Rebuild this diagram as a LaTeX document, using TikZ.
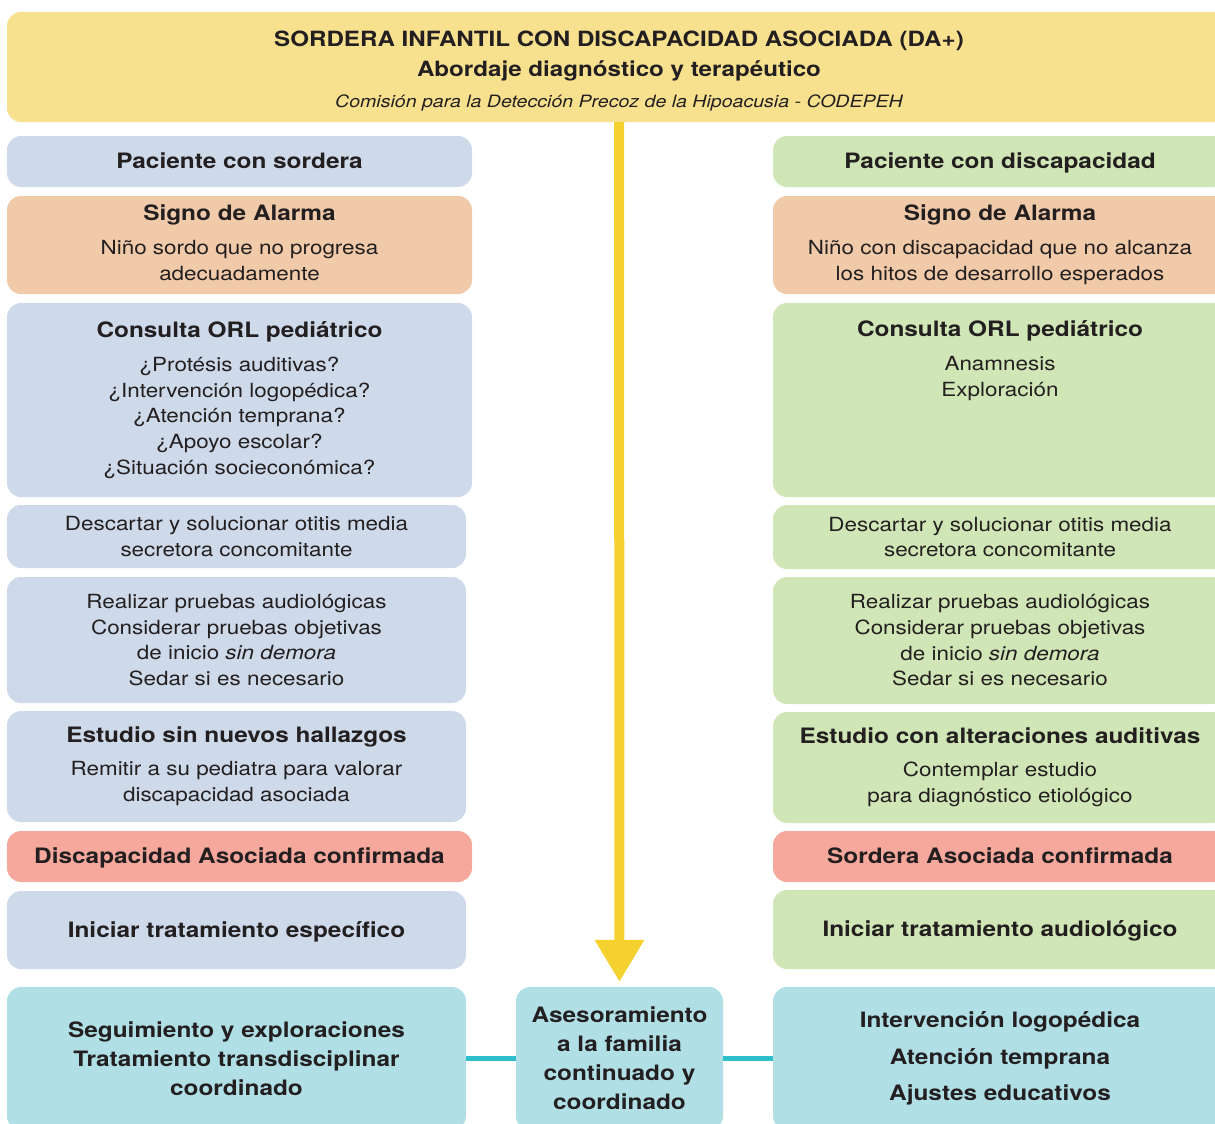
\documentclass[tikz,border=0pt]{standalone}
\usepackage{fontspec}
\setmainfont{TeX Gyre Heros}[FakeStretch=1.15]
\usetikzlibrary{arrows.meta}
\definecolor{titleY}{HTML}{F7E18F}
\definecolor{blueB}{HTML}{CED9EA}
\definecolor{peach}{HTML}{F0CAA9}
\definecolor{greenB}{HTML}{D0E6B6}
\definecolor{salmon}{HTML}{F6A89D}
\definecolor{cyanB}{HTML}{B0DFE5}
\definecolor{arrowY}{HTML}{F4D12F}
\definecolor{lineC}{HTML}{2DBFCA}
\definecolor{txt}{HTML}{231F20}
\newcommand{\hd}[1]{{\bfseries\fontsize{21.2}{25.7}\selectfont #1}}
\newcommand{\ph}{\vphantom{Ápg}}
\tikzset{
  box/.style={fill=#1, draw=none, rounded corners=14pt, inner sep=0pt, align=center, text=txt,
    font=\fontsize{19.5}{25.7}\selectfont},
  bigtxt/.style={font=\bfseries\fontsize{21.2}{29}\selectfont},
  conn/.style={line width=5pt, draw=lineC},
  mainarrow/.style={line width=10pt, draw=arrowY, -{Triangle[width=47pt,length=42pt]}},
}
\begin{document}
\begin{tikzpicture}[x=1pt,y=-1pt]
\useasboundingbox (0,0) rectangle (1215,1124);
\clip (0,0) rectangle (1215,1124);
% title
\node[box=titleY, minimum width=1224, minimum height=110] (title) at (619,67) {};
\node[text=txt, anchor=base, inner sep=0pt, font=\bfseries\fontsize{21}{25}\selectfont] (t1) at (619,47) {SORDERA INFANTIL CON DISCAPACIDAD ASOCIADA (DA+)};
\node[text=txt, anchor=base, inner sep=0pt, font=\bfseries\fontsize{21}{25}\selectfont] (t2) at (619,77) {Abordaje diagnóstico y terapéutico};
\node[text=txt, anchor=base, inner sep=0pt, font=\itshape\fontsize{17}{20}\selectfont] (t3) at (619,107) {Comisión para la Detección Precoz de la Hipoacusia - CODEPEH};

% left column
\node[box=blueB, minimum width=465, minimum height=51] (pacS) at (239.5,161.5) {\hd{\ph Paciente con sordera}};
\node[box=peach, minimum width=465, minimum height=98] (sigS) at (239.5,245) {\hd{Signo de Alarma}\\[8.3pt]Niño sordo que no progresa\\\ph adecuadamente};
\node[box=blueB, minimum width=465, minimum height=194] (conS) at (239.5,400) {\hd{Consulta ORL pediátrico}\\[8.3pt]¿Protésis auditivas?\\¿Intervención logopédica?\\¿Atención temprana?\\¿Apoyo escolar?\\¿Situación socieconómica?};
\node[box=blueB, minimum width=459, minimum height=63] (desS) at (236.5,536.5) {Descartar y solucionar otitis media\\secretora concomitante};
\node[box=blueB, minimum width=459, minimum height=126] (reaS) at (236.5,640) {Realizar pruebas audiológicas\\Considerar pruebas objetivas\\de inicio \textit{sin demora}\\Sedar si es necesario};
\node[box=blueB, minimum width=459, minimum height=111] (estS) at (236.5,766.5) {\hd{Estudio sin nuevos hallazgos}\\[7.3pt]Remitir a su pediatra para valorar\\discapacidad asociada};
\node[box=salmon, minimum width=465, minimum height=51, bigtxt] (disS) at (239.5,856.5) {\ph Discapacidad Asociada confirmada};
\node[box=blueB, minimum width=459, minimum height=78, bigtxt] (iniS) at (236.5,930) {\ph Iniciar tratamiento específico};
\node[box=cyanB, minimum width=459, minimum height=143, bigtxt] (segS) at (236.5,1058.5) {Seguimiento y exploraciones\\Tratamiento transdisciplinar\\coordinado};

% right column
\node[box=greenB, minimum width=454, minimum height=51] (pacD) at (1000,161.5) {\hd{\ph Paciente con discapacidad}};
\node[box=peach, minimum width=454, minimum height=98] (sigD) at (1000,245) {\hd{Signo de Alarma}\\[8.3pt]Niño con discapacidad que no alcanza\\\ph los hitos de desarrollo esperados};
\node[box=greenB, minimum width=454, minimum height=194] (conD) at (1000,400) {};
\node[text=txt, align=center, inner sep=0pt, anchor=north, font=\fontsize{19.5}{25.7}\selectfont] (conDt) at ([yshift=-18pt]conD.north) {\hd{Consulta ORL pediátrico}\\[8.3pt]Anamnesis\\Exploración};
\node[box=greenB, minimum width=454, minimum height=64] (desD) at (1000,537) {Descartar y solucionar otitis media\\secretora concomitante};
\node[box=greenB, minimum width=454, minimum height=127] (reaD) at (1000,640.5) {Realizar pruebas audiológicas\\Considerar pruebas objetivas\\de inicio \textit{sin demora}\\Sedar si es necesario};
\node[box=greenB, minimum width=454, minimum height=111] (estD) at (1000,767.5) {\hd{Estudio con alteraciones auditivas}\\[7.3pt]Contemplar estudio\\para diagnóstico etiológico};
\node[box=salmon, minimum width=454, minimum height=51, bigtxt] (sorD) at (1000,856.5) {\ph Sordera Asociada confirmada};
\node[box=greenB, minimum width=454, minimum height=79, bigtxt] (iniD) at (1000,929.5) {\ph Iniciar tratamiento audiológico};
\node[box=cyanB, minimum width=454, minimum height=143, bigtxt] (intD) at (1000,1058.5) {Intervención logopédica\\[7.7pt]Atención temprana\\[7.7pt]Ajustes educativos};

% center
\node[box=cyanB, minimum width=207, minimum height=143, bigtxt] (ases) at (619.5,1058.5) {Asesoramiento\\a la familia\\continuado y\\coordinado};

% connectors
\draw[mainarrow, shorten >=5pt] (title.south) -- (ases.north);
\draw[conn] (segS.east) -- (ases.west);
\draw[conn] (ases.east) -- (intD.west);
\end{tikzpicture}
\end{document}
